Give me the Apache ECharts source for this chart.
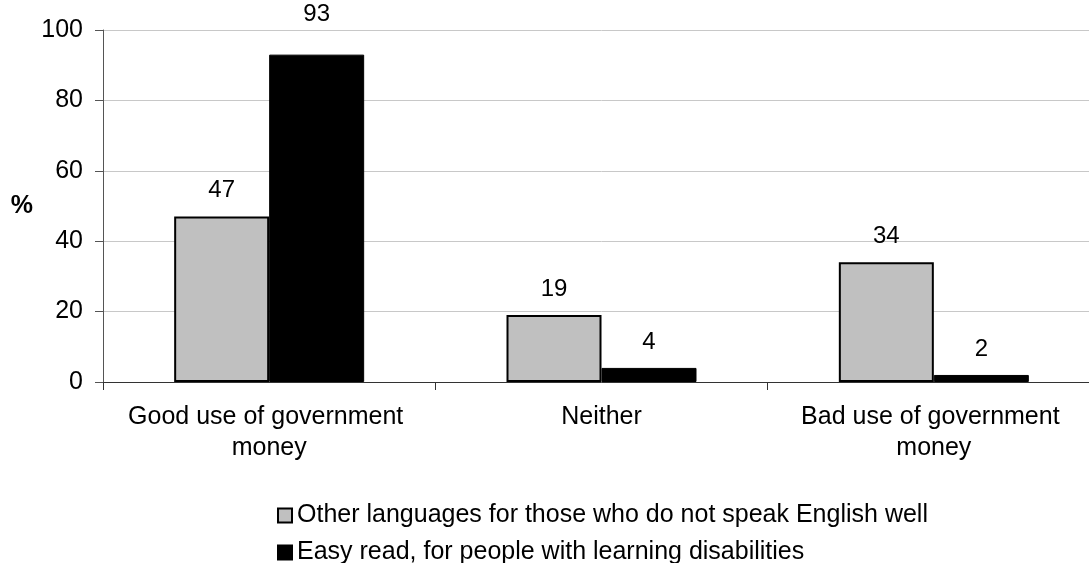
<!DOCTYPE html>
<html>
<head>
<meta charset="utf-8">
<script src="https://cdn.jsdelivr.net/npm/echarts@6/dist/echarts.min.js"></script>
<style>
html,body{margin:0;padding:0;background:#fff;overflow:hidden;}
#chart{width:1100px;height:563px;}
</style>
</head>
<body>
<div id="chart"></div>
<script>
const categories = ['Good use of government money', 'Neither', 'Bad use of government money'];
const seriesNames = ['Other languages for those who do not speak English well', 'Easy read, for people with learning disabilities'];
const otherLanguages = [47, 19, 34];
const easyRead = [93, 4, 2];
const yTicks = { min: 0, max: 100, interval: 20 };
const yAxisTitle = '%';

const FONT = 'Liberation Sans, Arial, sans-serif';
const chart = echarts.init(document.getElementById('chart'), null, { renderer: 'canvas' });

const labelStyle = {
  show: true,
  position: 'top',
  distance: 14,
  color: '#000',
  fontFamily: FONT,
  fontSize: 24
};

// the tallest bar's label sits higher, above the top gridline, as in the original
const maxEasy = Math.max.apply(null, easyRead);
const easyData = easyRead.map(v => v === maxEasy ? { value: v, label: { distance: 28 } } : v);

const legendBase = {
  orient: 'vertical',
  left: 277,
  icon: 'rect',
  itemWidth: 14,
  itemHeight: 14,
  padding: 0,
  textStyle: { fontFamily: FONT, fontSize: 25, color: '#000', lineHeight: 24 }
};

chart.setOption({
  animation: false,
  backgroundColor: '#fff',
  grid: { left: 103, top: 30, right: 0, height: 352 },
  legend: [
    Object.assign({}, legendBase, { top: 503, data: [seriesNames[0]] }),
    Object.assign({}, legendBase, { top: 540, data: [seriesNames[1]] })
  ],
  xAxis: {
    type: 'category',
    data: categories,
    axisLine: { lineStyle: { color: '#333', width: 1 } },
    axisTick: { show: true, length: 8, interval: 0, lineStyle: { color: '#333' } },
    axisLabel: {
      interval: 0,
      margin: 20,
      color: '#000',
      fontFamily: FONT,
      fontSize: 25,
      lineHeight: 31,
      width: 320,
      overflow: 'break',
      align: 'center'
    },
    splitLine: { show: false }
  },
  yAxis: {
    type: 'value',
    min: yTicks.min,
    max: yTicks.max,
    interval: yTicks.interval,
    name: yAxisTitle,
    nameLocation: 'middle',
    nameRotate: 0,
    nameGap: 70,
    nameTextStyle: { fontFamily: FONT, fontSize: 25, fontWeight: 'bold', color: '#000' },
    axisLine: { show: true, lineStyle: { color: '#555', width: 1 } },
    axisTick: { show: true, length: 8, lineStyle: { color: '#555' } },
    axisLabel: { margin: 20, color: '#000', fontFamily: FONT, fontSize: 25 },
    splitLine: { show: true, lineStyle: { color: '#c8c8c8', width: 1 } }
  },
  series: [
    {
      name: seriesNames[0],
      type: 'bar',
      data: otherLanguages,
      barWidth: 95,
      barGap: '0%',
      itemStyle: { color: '#c0c0c0', borderColor: '#000', borderWidth: 2 },
      label: labelStyle
    },
    {
      name: seriesNames[1],
      type: 'bar',
      data: easyData,
      barWidth: 95,
      barGap: '0%',
      itemStyle: { color: '#000', borderColor: '#000', borderWidth: 1 },
      label: labelStyle
    }
  ]
});
</script>
</body>
</html>
